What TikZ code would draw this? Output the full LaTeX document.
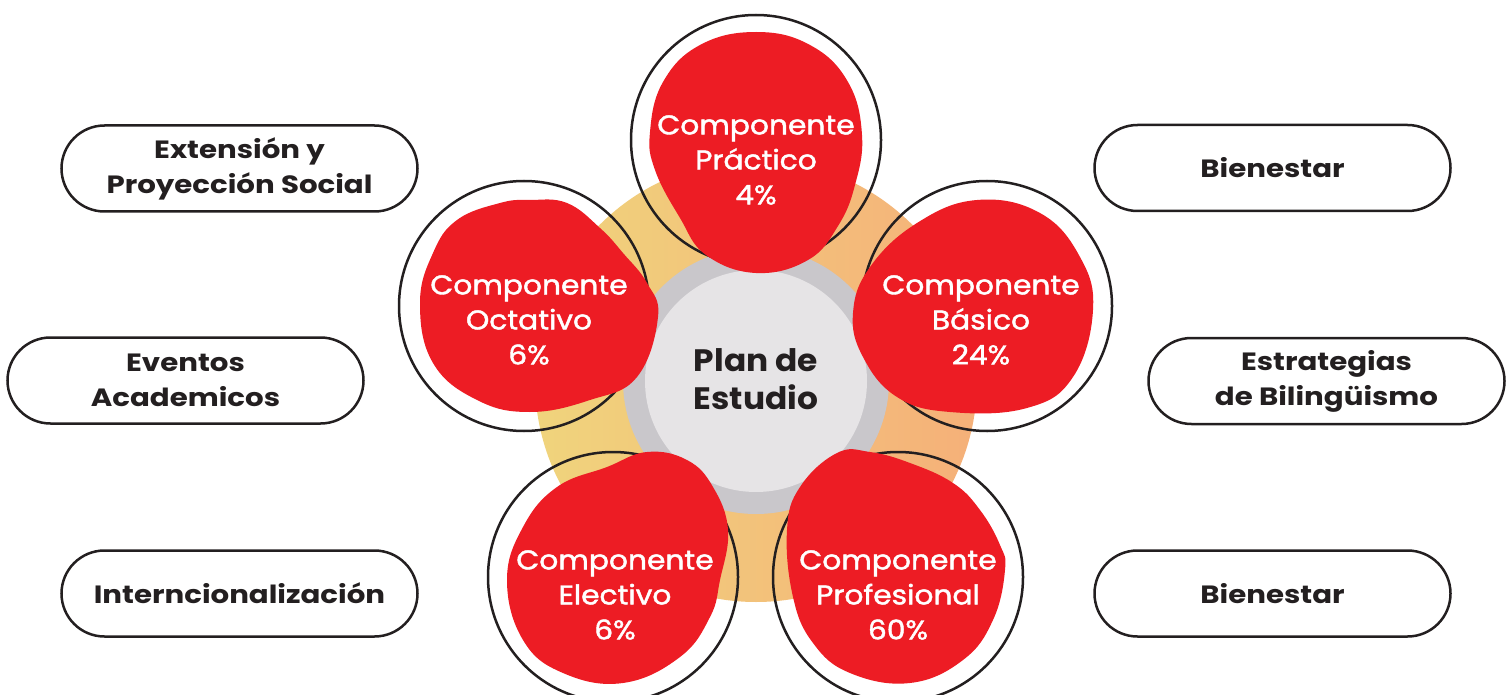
\documentclass[tikz,border=0pt]{standalone}
\usepackage{fontspec}
\setmainfont{Poppins}
\newfontfamily\bubfont{Poppins}[FakeBold=1.6, FakeStretch=1.1]
\newfontfamily\pillfont{Poppins}[FakeStretch=1.17]
\newfontfamily\corefont{Poppins}[FakeStretch=1.06]
\definecolor{blobred}{RGB}{237,28,36}
\definecolor{inkdark}{RGB}{35,31,32}
\definecolor{ringL}{RGB}{240,212,124}
\definecolor{ringR}{RGB}{245,176,121}
\definecolor{ringgray}{RGB}{201,199,203}
\definecolor{coregray}{RGB}{230,228,230}
\tikzset{
  pill/.style={draw=inkdark, line width=2.5pt, rounded corners=43pt, minimum width=356pt, minimum height=86pt, align=center, inner sep=0pt, font=\pillfont\fontsize{25}{35}\selectfont\bfseries, text=inkdark},
  ring/.style={draw=inkdark, line width=2.5pt, circle, minimum size=250pt, inner sep=0pt},
  blob/.style={fill=blobred},
  bubtext/.style={align=center, text=white, inner sep=0pt, font=\bubfont\fontsize{27}{35}\selectfont},
  coretext/.style={align=center, text=inkdark, inner sep=0pt, font=\corefont\fontsize{31}{38}\selectfont\bfseries}
}
\begin{document}
\begin{tikzpicture}[x=1pt,y=-1pt]
\useasboundingbox (0,0) rectangle (1512,695);
\coordinate (c) at (756,381);
% rings
\shade[left color=ringL, right color=ringR] (c) circle (221pt);
\fill[ringgray] (c) circle (133pt);
\fill[coregray] (c) circle (111pt);
\node[coretext] (core) at (756,379) {Plan de\\Estudio};
% outline circles
\node[ring] (oT) at (756,140) {};
\node[ring] (oR) at (987,306) {};
\node[ring] (oL) at (524,306) {};
\node[ring] (oBL) at (613,577) {};
\node[ring] (oBR) at (898,577) {};
% blobs
\fill[blob] plot[smooth cycle, tension=0.7] coordinates {(756,32) (810,45) (848,82) (862,135) (855,185) (838,226) (808,260) (756,273) (706,255) (680,218) (655,170) (650,132) (663,82) (700,45)};
\fill[blob] plot[smooth cycle, tension=0.7] coordinates {(977,200) (1040,213) (1080,257) (1093,310) (1073,377) (1027,408) (950,412) (897,397) (863,357) (853,313) (870,267) (917,223)};
\fill[blob] plot[smooth cycle, tension=0.7] coordinates {(530,200) (567,203) (600,228) (623,253) (647,283) (658,317) (637,377) (590,400) (530,412) (477,400) (433,363) (420,303) (433,253) (457,220) (500,203)};
\fill[blob] plot[smooth cycle, tension=0.7] coordinates {(837,453) (870,452) (910,463) (953,483) (980,510) (1000,545) (1005,570) (993,620) (963,660) (910,683) (850,673) (813,643) (793,597) (787,530) (800,487)};
\fill[blob] plot[smooth cycle, tension=0.7] coordinates {(647,452) (687,460) (713,487) (728,530) (720,580) (710,617) (680,657) (623,683) (563,673) (523,640) (507,580) (523,527) (557,487) (607,467)};
% bubble texts
\node[bubtext] (tT) at (756,160) {Componente\\Práctico\\4\%};
\node[bubtext] (tR) at (981,320) {Componente\\Básico\\24\%};
\node[bubtext] (tL) at (529,320) {Componente\\Octativo\\6\%};
\node[bubtext] (tBL) at (615,595) {Componente\\Electivo\\6\%};
\node[bubtext] (tBR) at (898,595) {Componente\\Profesional\\60\%};
% pills
\node[pill] (p1) at (239.5,168.5) {Extensión y\\Proyección Social};
\node[pill] (p2) at (185.5,380.5) {Eventos\\Academicos};
\node[pill] (p3) at (239.5,593.5) {Interncionalización};
\node[pill] (p4) at (1272.5,168) {Bienestar};
\node[pill] (p5) at (1326.5,381) {Estrategias\\de Bilingüismo};
\node[pill] (p6) at (1272.5,593.5) {Bienestar};
\end{tikzpicture}
\end{document}
